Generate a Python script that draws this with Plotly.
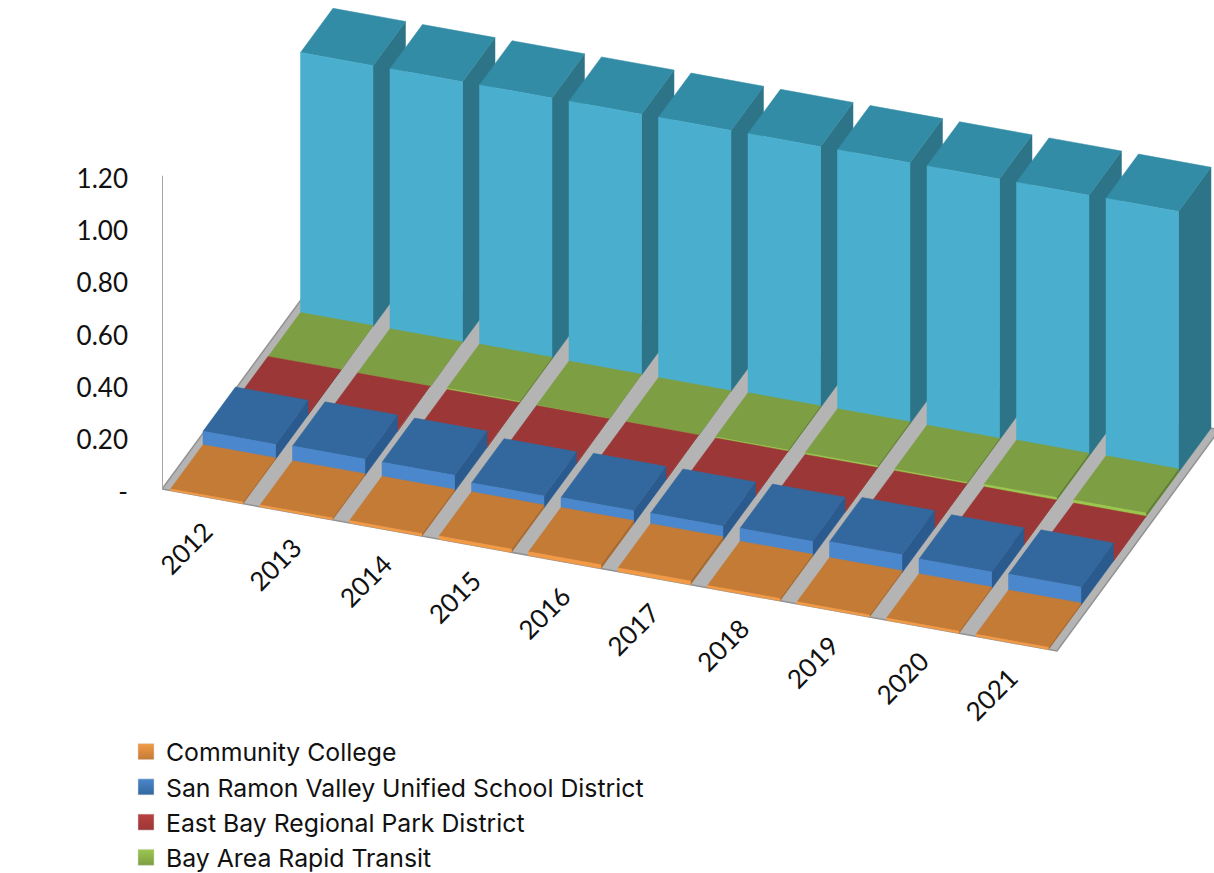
import plotly.graph_objects as go

years = ["2012", "2013", "2014", "2015", "2016", "2017", "2018", "2019", "2020", "2021"]
community_college = [.006, .007, .009, .012, .014, .014, .009, .008, .008, .008]
san_ramon_usd = [.0575, .063, .063, .046, .052, .054, .058, .069, .065, .069]
east_bay_parks = [.005, .004, .003, .003, .003, .003, .002, .002, .002, .002]
bart = [.004, .004, .007, .004, .003, .007, .008, .007, .012, .014]
general_levy = [1.0] * 10

y_ticks = [0, .2, .4, .6, .8, 1.0, 1.2]
y_labels = ["-", "0.20", "0.40", "0.60", "0.80", "1.00", "1.20"]

# depth index, name, values, (top, front, side) colours, legend rank
series = [
    (4, "General Levy", general_levy, ("#338CA5", "#4AAFCE", "#2D7488"), None),
    (3, "Bay Area Rapid Transit", bart, ("#7D9E43", "#9CC74F", "#5F8030"), 4),
    (2, "East Bay Regional Park District", east_bay_parks, ("#9B3736", "#B84240", "#7F2C2B"), 3),
    (1, "San Ramon Valley Unified School District", san_ramon_usd, ("#33689F", "#4A87CC", "#2A5A8E"), 2),
    (0, "Community College", community_college, ("#C47B36", "#F29A45", "#A8682D"), 1),
]

# oblique projection of (category, depth, value) into axis units
W, H, L = 1214, 873, 162
PX_CAT, PX_VAL = 89.5, 261.0
ZERO_PX = 489.0
SKEW_U_Y = 16.2 / PX_VAL
DEPTH_X = 32.5 / PX_CAT
DEPTH_Y = 44.25 / PX_VAL
GAP = 0.095


def proj(u, s, v):
    return u + DEPTH_X * s, v - SKEW_U_Y * u + DEPTH_Y * s


def poly(corners):
    pts = [proj(*c) for c in corners]
    pts.append(pts[0])
    return [p[0] for p in pts] + [None], [p[1] for p in pts] + [None]


def face_trace(xs, ys, color, name="", **kw):
    return go.Scatter(x=xs, y=ys, mode="lines", fill="toself", fillcolor=color,
                      line=dict(width=0.5, color=color), name=name, showlegend=False,
                      hoverinfo="skip", **kw)


fig = go.Figure()

# floor
fx, fy = poly([(0, 0, 0), (10, 0, 0), (10, 5, 0), (0, 5, 0)])
fig.add_trace(go.Scatter(x=fx, y=fy, mode="lines", fill="toself", fillcolor="#B4B4B4",
                         line=dict(width=1.5, color="#929292"), showlegend=False,
                         hoverinfo="skip", cliponaxis=True))

# vertical value axis
ax, ay = proj(0, 0, 0)
fig.add_trace(go.Scatter(x=[ax, ax], y=[ay, 1.2], mode="lines",
                         line=dict(width=2, color="#A6A6A6"), showlegend=False,
                         hoverinfo="skip", cliponaxis=False))

for s, name, vals, (c_top, c_front, c_side), rank in series:
    side_x, side_y, top_x, top_y, front_x, front_y = [], [], [], [], [], []
    for i, v in enumerate(vals):
        u0, u1 = i + GAP, i + 1 - GAP
        x, y = poly([(u1, s, 0), (u1, s + 1, 0), (u1, s + 1, v), (u1, s, v)])
        side_x += x; side_y += y
        x, y = poly([(u0, s, v), (u1, s, v), (u1, s + 1, v), (u0, s + 1, v)])
        top_x += x; top_y += y
        x, y = poly([(u0, s, 0), (u1, s, 0), (u1, s, v), (u0, s, v)])
        front_x += x; front_y += y
    fig.add_trace(face_trace(side_x, side_y, c_side, name + " side"))
    fig.add_trace(face_trace(top_x, top_y, c_top, name + " top"))
    fig.add_trace(face_trace(front_x, front_y, c_front, name + " front"))
    if rank is not None:
        fig.add_trace(go.Scatter(
            x=[None], y=[None], mode="markers", name=name, legendrank=rank,
            marker=dict(symbol="square", size=16, color=c_front,
                        gradient=dict(type="vertical", color=c_top),
                        line=dict(width=0.5, color="#D9D9D9"))))

FONT = "Lato"
annotations = []
for i, yr in enumerate(years):
    x, y = proj(i + 0.5, 0, 0)
    annotations.append(dict(
        x=x - 21 / PX_CAT, y=y - 51 / PX_VAL, text=yr, textangle=-45, showarrow=False,
        xanchor="center", yanchor="middle", font=dict(family=FONT, size=26, color="#111111")))
annotations.append(dict(
    x=(24 - L) / PX_CAT, y=(ZERO_PX - 341) / PX_VAL, text="<b>Per Hundred $</b>", textangle=-90,
    showarrow=False, xanchor="center", yanchor="middle",
    font=dict(family=FONT, size=23, color="#111111")))

fig.update_layout(
    width=W, height=H, margin=dict(l=L, r=0, t=0, b=0, autoexpand=False),
    paper_bgcolor="white", plot_bgcolor="white",
    font=dict(family=FONT, color="#111111"),
    xaxis=dict(range=[0, (W - L) / PX_CAT], visible=False, fixedrange=True),
    yaxis=dict(range=[(ZERO_PX - H) / PX_VAL, ZERO_PX / PX_VAL], tickvals=y_ticks, ticktext=y_labels,
               showgrid=False, zeroline=False, showline=False, ticks="", ticklabelstandoff=33,
               ticklabelshift=3,
               tickfont=dict(family=FONT, size=26, color="#111111"), fixedrange=True),
    legend=dict(x=(126 - L) / (W - L), y=1 - 729 / H,
                xanchor="left", yanchor="top",
                bgcolor="rgba(0,0,0,0)", font=dict(family="Inter", size=24.8, color="#111111"),
                traceorder="normal", itemclick=False, itemdoubleclick=False),
    annotations=annotations,
    hovermode=False,
)

fig.write_html("out.html", config=dict(displayModeBar=False),
               post_script="document.body.style.margin='0';")
